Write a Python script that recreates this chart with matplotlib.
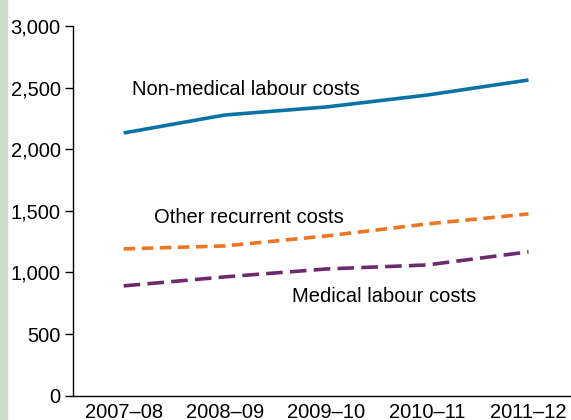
import matplotlib.pyplot as plt
import matplotlib.patches as mpatches

plt.rcParams['font.family'] = ['Liberation Sans', 'DejaVu Sans']

years = ['2007–08', '2008–09', '2009–10', '2010–11', '2011–12']
non_medical = [2132, 2278, 2343, 2440, 2562]
other_recurrent = [1191, 1215, 1296, 1394, 1475]
medical = [891, 964, 1028, 1061, 1167]
y_ticks = [0, 500, 1000, 1500, 2000, 2500, 3000]

fig = plt.figure(figsize=(5.71, 4.2), dpi=100)
# light green strip on the left edge
fig.patches.append(mpatches.Rectangle((0, 0), 7 / 571, 1, transform=fig.transFigure,
                                      color='#c9dcc5', zorder=0))
ax = fig.add_axes([0.128, 0.058, 0.872, 0.88])

x = list(range(len(years)))
ax.plot(x, non_medical, color='#0a73a6', lw=2.6, solid_capstyle='butt')
ax.plot(x, other_recurrent, color='#ec7623', lw=2.6, dashes=(3.2, 1.8))
ax.plot(x, medical, color='#6e2a6e', lw=2.6, dashes=(4.6, 2.0))

fs = 14.5
ax.text(0.08, 2485, 'Non-medical labour costs', fontsize=fs, va='center')
ax.text(0.30, 1445, 'Other recurrent costs', fontsize=fs, va='center')
ax.text(1.66, 805, 'Medical labour costs', fontsize=fs, va='center')

ax.set_xlim(-0.5, 4.42)
ax.set_ylim(0, 3000)
ax.set_xticks(x)
ax.set_xticklabels(years)
ax.set_yticks(y_ticks)
ax.set_yticklabels([f'{v:,}' for v in y_ticks])
ax.tick_params(axis='y', length=6, width=1, labelsize=fs, pad=3)
ax.tick_params(axis='x', length=0, labelsize=fs, pad=5)

for side in ['top', 'right']:
    ax.spines[side].set_visible(False)
ax.spines['left'].set_linewidth(1)
ax.spines['bottom'].set_linewidth(1)

fig.savefig('out.png', dpi=100)
